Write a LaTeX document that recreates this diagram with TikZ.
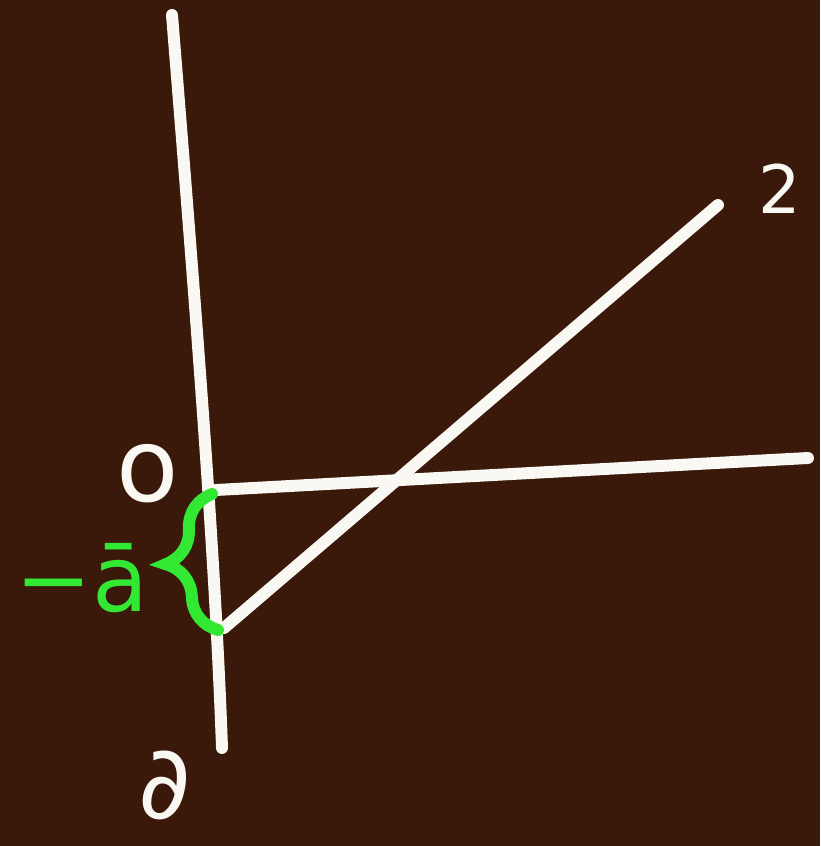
\documentclass[tikz,border=0pt]{standalone}
\usepackage{fontspec}
\setmainfont{DejaVu Sans}
\usetikzlibrary{decorations.pathreplacing}
\definecolor{board}{RGB}{58,24,10}
\definecolor{chalk}{RGB}{250,248,242}
\definecolor{mark}{RGB}{50,232,50}
\tikzset{
  chalkline/.style={draw=chalk, line width=3.4pt, line cap=round, line join=round},
  chalktext/.style={text=chalk, inner sep=0pt},
  marktext/.style={text=mark, inner sep=0pt},
}
\begin{document}
\begin{tikzpicture}[x=0.01cm, y=-0.01cm]
  \fill[board] (0,0) rectangle (820,846);
  \useasboundingbox (0,0) rectangle (820,846);
  % axis points
  \coordinate (vtop) at (172,15);
  \coordinate (vbot) at (222,748);
  \coordinate (hstart) at (216,490);
  \coordinate (hend) at (808,458);
  \coordinate (dstart) at (224,628);
  \coordinate (dend) at (718,205);
  % lines
  \draw[chalkline] (vtop) .. controls (195,300) and (215,550) .. (vbot);
  \draw[chalkline] (hstart) -- (hend);
  \draw[chalkline] (dstart) -- (dend);
  % labels
  \node[chalktext, font=\fontsize{19}{19}\selectfont] (lbl2) at (780,189) {2};
  \node[chalktext, font=\fontsize{29}{29}\selectfont] (lblo) at (148,474) {o};
  \node[chalktext, font=\fontsize{29}{29}\selectfont, anchor=base] (lblbot) at (165,818) {∂};
  % brace
  \draw[draw=mark, line width=3.4pt, line cap=round,
        decorate, decoration={brace, amplitude=14pt}]
        (218,630) -- (212,494);
  \node[marktext, font=\fontsize{26}{26}\selectfont] (lbla) at (82,578) {−ā};
\end{tikzpicture}
\end{document}
